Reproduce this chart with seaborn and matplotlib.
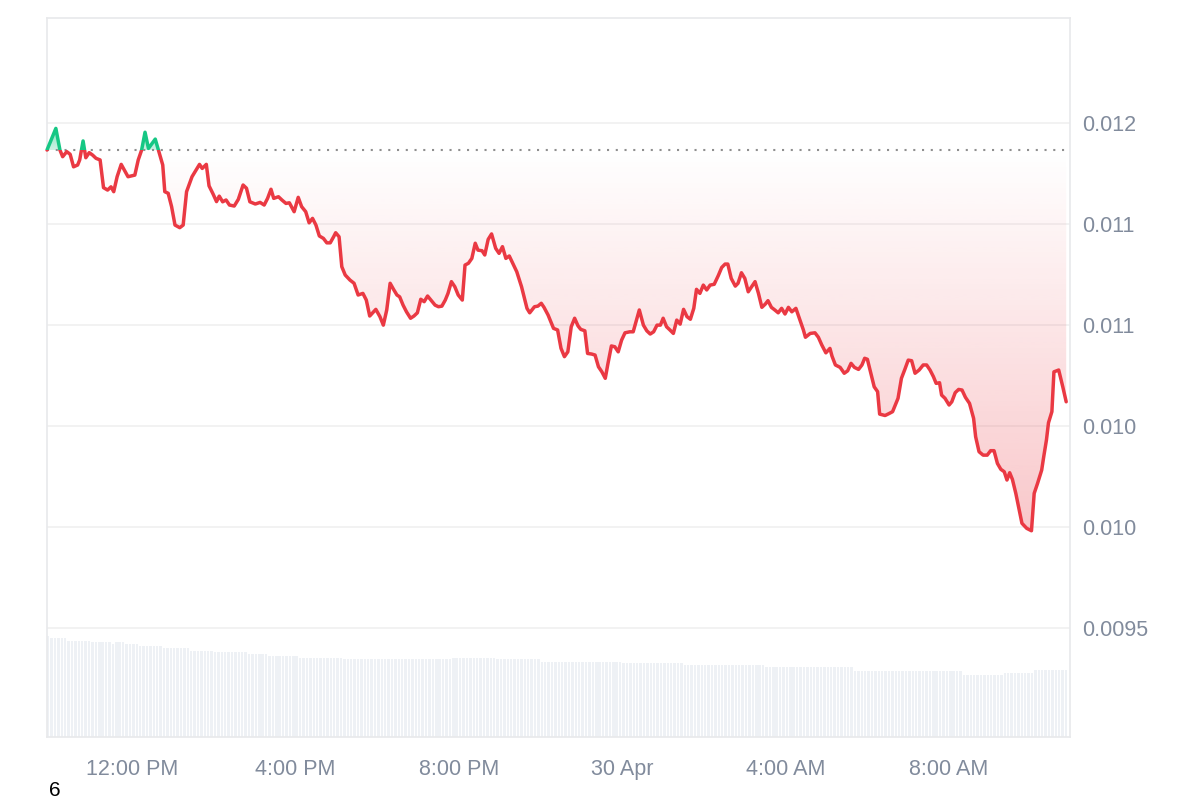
import numpy as np
import pandas as pd
import matplotlib
matplotlib.use('Agg')
import matplotlib.pyplot as plt
import matplotlib.dates as mdates
from matplotlib.path import Path
from matplotlib.patches import Rectangle
import seaborn as sns

# price trace, 29-30 Apr, minutes after 09:55
start = pd.Timestamp('2024-04-29 09:55')
minutes = [
    0, 13, 19, 23, 29, 34, 39, 45, 48, 53,
    57, 62, 67, 72, 78, 83, 89, 94, 98, 103,
    109, 115, 119, 129, 134, 139, 144, 149, 159, 163,
    170, 173, 178, 183, 188, 195, 200, 205, 213, 217,
    224, 228, 234, 238, 244, 249, 253, 258, 263, 268,
    275, 281, 288, 293, 298, 306, 313, 319, 324, 329,
    333, 340, 345, 351, 356, 363, 369, 374, 380, 385,
    390, 395, 400, 406, 411, 416, 421, 424, 429, 433,
    438, 445, 451, 457, 464, 469, 474, 483, 489, 494,
    499, 504, 509, 514, 518, 523, 528, 534, 539, 544,
    549, 554, 559, 565, 570, 575, 580, 585, 589, 594,
    599, 604, 610, 614, 619, 624, 629, 633, 639, 643,
    648, 653, 659, 664, 669, 674, 679, 683, 690, 697,
    705, 709, 716, 721, 726, 730, 736, 744, 750, 755,
    760, 765, 770, 775, 780, 784, 790, 794, 800, 805,
    810, 815, 820, 824, 829, 834, 839, 844, 849, 856,
    861, 870, 876, 881, 886, 891, 896, 901, 905, 910,
    915, 920, 925, 930, 935, 940, 945, 950, 954, 959,
    964, 969, 974, 980, 986, 991, 996, 1000, 1005, 1011,
    1015, 1020, 1025, 1030, 1035, 1040, 1045, 1050, 1055, 1059,
    1064, 1069, 1074, 1079, 1084, 1089, 1094, 1100, 1106, 1111,
    1114, 1121, 1128, 1133, 1138, 1144, 1150, 1153, 1158, 1165,
    1171, 1176, 1181, 1186, 1192, 1197, 1201, 1205, 1210, 1215,
    1220, 1223, 1231, 1237, 1242, 1246, 1250, 1255, 1260, 1265,
    1270, 1275, 1281, 1287, 1292, 1297, 1302, 1306, 1311, 1314,
    1319, 1325, 1329, 1334, 1339, 1344, 1349, 1355, 1361, 1364,
    1369, 1375, 1381, 1386, 1391, 1396, 1401, 1406, 1410, 1414,
    1418, 1423, 1428, 1432, 1439, 1446, 1450, 1455, 1461, 1464,
    1468, 1471, 1476, 1479, 1486, 1492, 1497,
]
price = [
    0.011865, 0.011972, 0.011865, 0.011832, 0.011857, 0.011844, 0.011782, 0.011791, 0.011816, 0.011910,
    0.011827, 0.011852, 0.011840, 0.011824, 0.011816, 0.011679, 0.011667, 0.011683, 0.011659, 0.011733,
    0.011794, 0.011758, 0.011733, 0.011741, 0.011816, 0.011865, 0.011953, 0.011873, 0.011919, 0.011873,
    0.011791, 0.011659, 0.011651, 0.011585, 0.011494, 0.011481, 0.011494, 0.011659, 0.011733, 0.011755,
    0.011794, 0.011774, 0.011794, 0.011688, 0.011647, 0.011610, 0.011637, 0.011609, 0.011618, 0.011593,
    0.011588, 0.011621, 0.011692, 0.011676, 0.011609, 0.011598, 0.011606, 0.011593, 0.011626, 0.011671,
    0.011626, 0.011634, 0.011618, 0.011601, 0.011604, 0.011560, 0.011631, 0.011585, 0.011560, 0.011505,
    0.011527, 0.011494, 0.011440, 0.011428, 0.011406, 0.011406, 0.011436, 0.011456, 0.011436, 0.011288,
    0.011247, 0.011222, 0.011206, 0.011148, 0.011156, 0.011123, 0.011044, 0.011077, 0.011041, 0.010999,
    0.011074, 0.011206, 0.011176, 0.011148, 0.011139, 0.011098, 0.011065, 0.011033, 0.011044, 0.011060,
    0.011127, 0.011115, 0.011143, 0.011118, 0.011098, 0.011090, 0.011093, 0.011123, 0.011156, 0.011214,
    0.011189, 0.011148, 0.011123, 0.011296, 0.011305, 0.011329, 0.011404, 0.011370, 0.011367, 0.011346,
    0.011423, 0.011450, 0.011379, 0.011354, 0.011387, 0.011329, 0.011341, 0.011313, 0.011263, 0.011189,
    0.011082, 0.011060, 0.011090, 0.011093, 0.011107, 0.011087, 0.011049, 0.010983, 0.010975, 0.010884,
    0.010843, 0.010867, 0.010991, 0.011033, 0.010995, 0.010978, 0.010971, 0.010859, 0.010856, 0.010851,
    0.010793, 0.010768, 0.010736, 0.010810, 0.010896, 0.010892, 0.010867, 0.010925, 0.010961, 0.010966,
    0.010966, 0.011074, 0.010999, 0.010971, 0.010955, 0.010966, 0.010999, 0.010999, 0.011033, 0.010991,
    0.010975, 0.010958, 0.011024, 0.011004, 0.011077, 0.011041, 0.011028, 0.011082, 0.011176, 0.011156,
    0.011197, 0.011173, 0.011197, 0.011201, 0.011244, 0.011284, 0.011301, 0.011301, 0.011230, 0.011192,
    0.011206, 0.011258, 0.011230, 0.011164, 0.011189, 0.011214, 0.011156, 0.011087, 0.011103, 0.011120,
    0.011087, 0.011074, 0.011060, 0.011082, 0.011054, 0.011087, 0.011065, 0.011082, 0.011024, 0.010975,
    0.010939, 0.010958, 0.010961, 0.010939, 0.010901, 0.010862, 0.010884, 0.010846, 0.010802, 0.010790,
    0.010761, 0.010773, 0.010810, 0.010790, 0.010780, 0.010802, 0.010835, 0.010830, 0.010761, 0.010694,
    0.010670, 0.010559, 0.010552, 0.010562, 0.010571, 0.010604, 0.010637, 0.010736, 0.010780, 0.010826,
    0.010823, 0.010761, 0.010777, 0.010802, 0.010802, 0.010777, 0.010744, 0.010711, 0.010714, 0.010653,
    0.010637, 0.010604, 0.010620, 0.010665, 0.010681, 0.010678, 0.010642, 0.010612, 0.010538, 0.010447,
    0.010373, 0.010356, 0.010356, 0.010378, 0.010378, 0.010315, 0.010286, 0.010274, 0.010233, 0.010269,
    0.010236, 0.010167, 0.010084, 0.010019, 0.009994, 0.009982, 0.010167, 0.010217, 0.010282, 0.010348,
    0.010431, 0.010516, 0.010571, 0.010768, 0.010777, 0.010694, 0.010620,
]
baseline = 0.011865

# volume bars (5 min each), runs of equal height
vol_levels = [1010, 987, 963, 947, 930, 947, 930, 910, 887, 863, 847, 827, 810,
              787, 780, 795, 780, 752, 745, 722, 700, 660, 620, 640, 670]
vol_counts = [1, 5, 7, 6, 1, 3, 4, 7, 8, 7, 10, 6, 9,
              13, 32, 13, 13, 24, 18, 24, 26, 32, 12, 9, 10]

y_ticks = [0.0095, 0.0100, 0.0105, 0.0110, 0.0115, 0.0120]
y_labels = ['0.0095', '0.010', '0.010', '0.011', '0.011', '0.012']
x_ticks = ['2024-04-29 12:00', '2024-04-29 16:00', '2024-04-29 20:00',
           '2024-04-30 00:00', '2024-04-30 04:00', '2024-04-30 08:00']
x_labels = ['12:00 PM', '4:00 PM', '8:00 PM', '30 Apr', '4:00 AM', '8:00 AM']

RED = '#ea3943'
GREEN = '#16c784'
TXT = '#818b9c'

df = pd.DataFrame({'time': start + pd.to_timedelta(minutes, unit='min'), 'price': price})
vol_time = start + pd.to_timedelta(np.arange(sum(vol_counts)) * 5, unit='min')
vol = np.repeat(vol_levels, vol_counts)

sns.set_style('white')
plt.rcParams['font.family'] = ['Liberation Sans', 'DejaVu Sans']

fig = plt.figure(figsize=(12, 8), dpi=100)
rect = [47 / 1200, 63 / 800, 1023 / 1200, 719 / 800]
ax_v = fig.add_axes(rect)
ax = fig.add_axes(rect, sharex=ax_v)
ax.patch.set_alpha(0)

# volume
ax_v.bar(vol_time, vol, width=3.6 / 1440, align='edge', color='#eef1f5', linewidth=0)
ax_v.set_ylim(0, 7190)
ax_v.set_yticks([])
for s in ax_v.spines.values():
    s.set_visible(False)

xmin = start
xmax = start + pd.Timedelta(minutes=1502.6)
ylo, yhi = 0.008962, 0.012518

# gradient fill between line and baseline
xn = mdates.date2num(df['time'])
pts = np.column_stack([xn, df['price']])
verts = np.vstack([pts, [[xn[-1], baseline], [xn[0], baseline], pts[0]]])
clip = Path(verts, closed=True)

n = 300
red_vals = np.linspace(baseline, ylo, n)
red_a = np.clip((baseline - red_vals) / (baseline - min(price)), 0, 1) * 0.28
red_img = np.zeros((n, 1, 4))
red_img[..., :3] = matplotlib.colors.to_rgb(RED)
red_img[:, 0, 3] = red_a
im = ax.imshow(red_img, extent=[xn[0], xn[-1], ylo, baseline], aspect='auto',
               origin='upper', zorder=1, interpolation='bilinear')
im.set_clip_path(clip, ax.transData)

grn_vals = np.linspace(yhi, baseline, n)
grn_a = 0.22 + np.clip((grn_vals - baseline) / (max(price) - baseline), 0, 1) * 0.3
grn_img = np.zeros((n, 1, 4))
grn_img[..., :3] = matplotlib.colors.to_rgb(GREEN)
grn_img[:, 0, 3] = grn_a
im2 = ax.imshow(grn_img, extent=[xn[0], xn[-1], baseline, yhi], aspect='auto',
                origin='upper', zorder=1, interpolation='bilinear')
im2.set_clip_path(clip, ax.transData)

# price line, red below baseline, green above
sns.lineplot(data=df, x='time', y='price', color=RED, linewidth=2.5, ax=ax, zorder=3)
ax.lines[-1].set_clip_path(Rectangle((xn[0] - 1, ylo - 1), xn[-1] - xn[0] + 2,
                                     baseline - ylo + 1, transform=ax.transData))
sns.lineplot(data=df, x='time', y='price', color=GREEN, linewidth=2.5, ax=ax, zorder=3)
ax.lines[-1].set_clip_path(Rectangle((xn[0] - 1, baseline), xn[-1] - xn[0] + 2,
                                     1, transform=ax.transData))

ax.hlines(baseline, xn[0], xn[-1], colors='#8f8f8f', linestyles=(0, (1, 3.2)),
          linewidth=1.5, zorder=2)

ax.set_xlim(xmin, xmax)
ax.set_ylim(ylo, yhi)
ax.set_xlabel('')
ax.set_ylabel('')

ax.set_yticks(y_ticks)
ax.set_yticklabels(y_labels)
ax.yaxis.tick_right()
ax.set_xticks(mdates.date2num(pd.to_datetime(x_ticks)))
ax.set_xticklabels(x_labels)
ax.tick_params(axis='y', length=0, pad=9, labelsize=15.5, labelcolor=TXT)
ax.tick_params(axis='x', length=0, pad=16, labelsize=15.5, labelcolor=TXT)
ax_v.tick_params(axis='x', length=0, labelbottom=False)

ax.grid(axis='y', color='#efefef', linewidth=1.1)
ax.grid(axis='x', visible=False)
ax.set_axisbelow(True)
for s in ax.spines.values():
    s.set_visible(True)
    s.set_color('#e8e9eb')
    s.set_linewidth(1.2)

fig.text(55 / 1200, 1 - 790 / 800, '6', fontsize=15, color='black', ha='center', va='center')

fig.savefig('out.png', dpi=100)
